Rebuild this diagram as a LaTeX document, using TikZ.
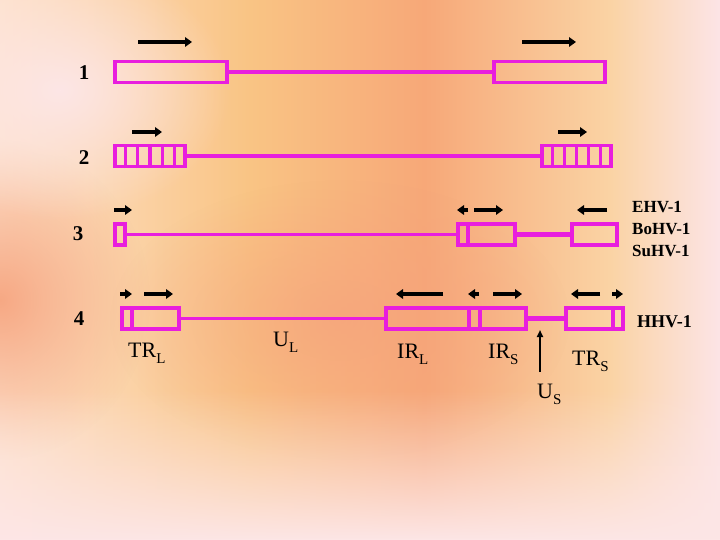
\documentclass[tikz,border=0pt]{standalone}
\usepackage{fontspec}
\setmainfont{Liberation Serif}
\usetikzlibrary{arrows.meta,calc,fadings}
\definecolor{mag}{RGB}{232,30,222}
\definecolor{cA}{HTML}{FDE2CC}
\definecolor{cB}{HTML}{F9C484}
\definecolor{cC}{HTML}{F7A878}
\definecolor{cD}{HTML}{FAD3A4}
\definecolor{cE}{HTML}{FCE4E6}
\definecolor{cPink}{HTML}{FDE6E6}
\definecolor{cSal}{HTML}{F6A27C}
\tikzfading[name=soft, inner color=transparent!0, outer color=transparent!100]
\tikzset{
  box/.style={draw=mag, line width=3.6pt, inner sep=0pt, minimum height=21pt},
  gline/.style={draw=mag, line width=3.6pt},
  gthick/.style={draw=mag, line width=5.5pt},
  div/.style={draw=mag, line width=3.2pt},
  dirarr/.style={line width=4pt, -{Triangle[length=7pt,width=9.5pt]}},
  num/.style={font=\fontsize{21}{21}\selectfont\bfseries},
  vir/.style={font=\fontsize{17}{17}\selectfont\bfseries, anchor=base west, inner sep=0pt},
  reg/.style={font=\fontsize{22}{22}\selectfont, anchor=base west, inner sep=0pt},
}
\newcommand{\lowsub}[1]{\raisebox{-0.3em}{\fontsize{15}{15}\selectfont #1}}
\begin{document}
\begin{tikzpicture}[x=1pt,y=-1pt]
\useasboundingbox (0,0) rectangle (720,540);
% background
\shade[left color=cA, right color=cB] (0,0) rectangle (250,540);
\shade[left color=cB, right color=cC] (249.5,0) rectangle (425,540);
\shade[left color=cC, right color=cD] (424.5,0) rectangle (610,540);
\shade[left color=cD, right color=cE] (609.5,0) rectangle (720,540);
\fill[cSal, path fading=soft, opacity=0.9] (0,300) ellipse [x radius=150, y radius=160];
\fill[cSal, path fading=soft, opacity=0.7] (340,320) ellipse [x radius=230, y radius=140];
\fill[cPink, path fading=soft] (60,90) ellipse [x radius=170, y radius=130];
\fill[cPink, path fading=north] (0,390) rectangle (720,540);
\fill[cPink] (0,539) rectangle (720,540);

% row numbers
\node[num] (n1) at (84,73) {1};
\node[num] (n2) at (84,158) {2};
\node[num] (n3) at (78,234) {3};
\node[num] (n4) at (79,319) {4};

% helper x positions for dividers
\coordinate (x132) at (132,0);
\coordinate (x468) at (468,0);
\coordinate (x469) at (469,0);
\coordinate (x480) at (480,0);
\coordinate (x613) at (613,0);

% row 1
\node[box, minimum width=112pt] (b1l) at (171,72) {};
\node[box, minimum width=111pt] (b1r) at (549.5,72) {};
\draw[gline] (b1l.east) -- (b1r.west);
\draw[dirarr] (138,42) -- (192,42);
\draw[dirarr] (522,42) -- (576,42);

% row 2
\node[box, minimum width=70pt] (b2l) at (150,156) {};
\node[box, minimum width=69pt] (b2r) at (576.5,156) {};
\draw[gline] (b2l.east) -- (b2r.west);
\foreach \i in {1,...,5}{
  \draw[div] ($(b2l.south west)!\i/6!(b2l.south east)$) -- ($(b2l.north west)!\i/6!(b2l.north east)$);
  \draw[div] ($(b2r.south west)!\i/6!(b2r.south east)$) -- ($(b2r.north west)!\i/6!(b2r.north east)$);
}
\draw[dirarr] (132,132) -- (162,132);
\draw[dirarr] (558,132) -- (587,132);

% row 3
\node[box, minimum width=10pt] (b3a) at (120,234.5) {};
\node[box, minimum width=57pt] (b3b) at (486.5,234.5) {};
\node[box, minimum width=45pt] (b3c) at (594.5,234.5) {};
\draw[gline] (b3a.east) -- (b3b.west);
\draw[gthick] (b3b.east) -- (b3c.west);
\draw[div] (x468 |- b3b.north) -- (x468 |- b3b.south);
\draw[dirarr] (114,210) -- (132,210);
\draw[dirarr] (468,210) -- (457,210);
\draw[dirarr] (474,210) -- (503,210);
\draw[dirarr] (607,210) -- (577,210);
\node[vir] (ehv) at (632,213) {EHV-1};
\node[vir] (bohv) at (632,235) {BoHV-1};
\node[vir] (suhv) at (632,256) {SuHV-1};

% row 4
\node[box, minimum width=57pt] (b4a) at (150.5,318.5) {};
\node[box, minimum width=140pt] (b4b) at (456,318.5) {};
\node[box, minimum width=57pt] (b4c) at (594.5,318.5) {};
\draw[gline] (b4a.east) -- (b4b.west);
\draw[gthick] (b4b.east) -- (b4c.west);
\draw[div] (x132 |- b4a.north) -- (x132 |- b4a.south);
\draw[div] (x469 |- b4b.north) -- (x469 |- b4b.south);
\draw[div] (x480 |- b4b.north) -- (x480 |- b4b.south);
\draw[div] (x613 |- b4c.north) -- (x613 |- b4c.south);
\draw[dirarr] (120,294) -- (132,294);
\draw[dirarr] (144,294) -- (173,294);
\draw[dirarr] (443,294) -- (396,294);
\draw[dirarr] (479,294) -- (468,294);
\draw[dirarr] (493,294) -- (522,294);
\draw[dirarr] (600,294) -- (571,294);
\draw[dirarr] (612,294) -- (623,294);
\node[vir, font=\fontsize{18}{18}\selectfont\bfseries] (hhv) at (637,327) {HHV-1};

% region labels
\node[reg] (trl) at (128,357) {TR\lowsub{L}};
\node[reg] (ul) at (273,346) {U\lowsub{L}};
\node[reg] (irl) at (397,358) {IR\lowsub{L}};
\node[reg] (irs) at (488,358) {IR\lowsub{S}};
\node[reg] (trs) at (572,365) {TR\lowsub{S}};
\node[reg] (us) at (537,398) {U\lowsub{S}};
\coordinate (usTip) at (540,330);
\coordinate (usTail) at (540,372);
\draw[line width=2pt, -{Triangle[length=7pt,width=6pt]}] (usTail) -- (usTip);
\end{tikzpicture}
\end{document}
